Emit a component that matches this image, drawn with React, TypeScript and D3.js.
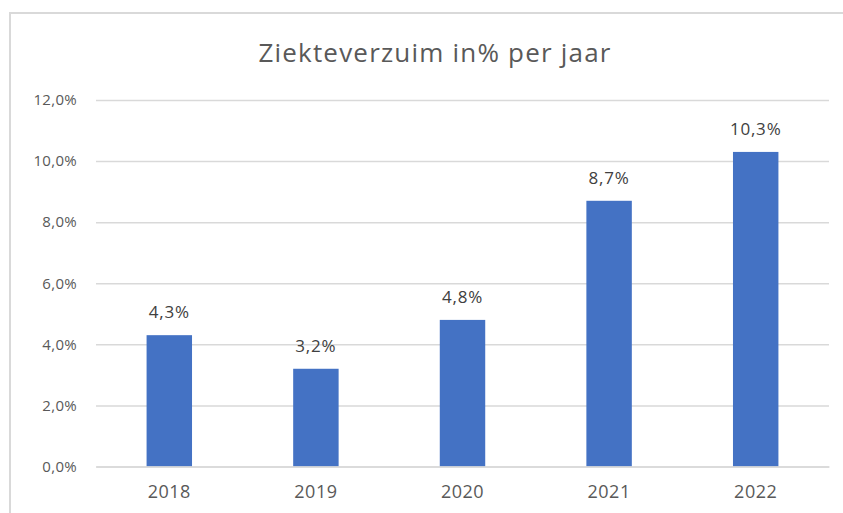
import { useEffect, useRef } from "react";
import * as d3 from "d3";

const years = ["2018", "2019", "2020", "2021", "2022"];
const absence = [4.3, 3.2, 4.8, 8.7, 10.3];
const yTicks = [0, 2, 4, 6, 8, 10, 12];
const title = "Ziekteverzuim in% per jaar";

const fmt = (v: number) => v.toFixed(1).replace(".", ",") + "%";

const App: React.FC = () => {
  const svgRef = useRef<SVGSVGElement>(null);

  useEffect(() => {
    if (!svgRef.current) return;
    const svg = d3.select(svgRef.current);
    svg.selectAll("*").remove();

    const width = 843;
    const height = 513;
    const margin = { top: 100, right: 14, bottom: 46.5, left: 96 };
    const innerWidth = width - margin.left - margin.right;
    const innerHeight = height - margin.top - margin.bottom;
    const font = "'Open Sans', 'Noto Sans', sans-serif";

    svg.attr("width", width).attr("height", height).style("display", "block");

    // chart frame (cut off on the right and bottom)
    svg
      .append("rect")
      .attr("x", 10)
      .attr("y", 13)
      .attr("width", 860)
      .attr("height", 520)
      .attr("fill", "#fff")
      .attr("stroke", "#d9d9d9")
      .attr("stroke-width", 2);

    svg
      .append("text")
      .attr("x", 435)
      .attr("y", 62)
      .attr("text-anchor", "middle")
      .attr("font-family", font)
      .attr("font-size", 26)
      .attr("letter-spacing", 1.2)
      .attr("fill", "#595959")
      .text(title);

    const x = d3
      .scaleBand()
      .domain(years)
      .range([0, innerWidth])
      .paddingInner(0.69)
      .paddingOuter(0.345);

    const y = d3.scaleLinear().domain([0, 12]).range([innerHeight, 0]);

    const g = svg
      .append("g")
      .attr("transform", `translate(${margin.left},${margin.top})`);

    // gridlines
    g.append("g")
      .call(
        d3
          .axisLeft(y)
          .tickValues(yTicks)
          .tickSize(-innerWidth)
          .tickFormat(() => "")
      )
      .call((s) => s.select(".domain").remove())
      .call((s) =>
        s.selectAll(".tick line").attr("stroke", "#d9d9d9").attr("stroke-width", 1.5)
      );

    // y labels
    g.append("g")
      .call(
        d3
          .axisLeft(y)
          .tickValues(yTicks)
          .tickSize(0)
          .tickPadding(19)
          .tickFormat((d) => fmt(d as number))
      )
      .call((s) => s.select(".domain").remove())
      .call((s) =>
        s
          .selectAll(".tick text")
          .attr("font-family", font)
          .attr("font-size", 15)
          .attr("letter-spacing", 0.3)
          .attr("fill", "#595959")
      );

    // bars
    g.selectAll("rect.bar")
      .data(absence)
      .join("rect")
      .attr("class", "bar")
      .attr("x", (_, i) => x(years[i])!)
      .attr("y", (d) => y(d))
      .attr("width", x.bandwidth())
      .attr("height", (d) => innerHeight - y(d))
      .attr("fill", "#4472c4");

    // data labels
    g.selectAll("text.label")
      .data(absence)
      .join("text")
      .attr("class", "label")
      .attr("x", (_, i) => x(years[i])! + x.bandwidth() / 2)
      .attr("y", (d) => y(d) - 17)
      .attr("text-anchor", "middle")
      .attr("font-family", font)
      .attr("font-size", 17)
      .attr("letter-spacing", 0.8)
      .attr("fill", "#404040")
      .text((d) => fmt(d));

    // x axis
    g.append("g")
      .attr("transform", `translate(0,${innerHeight})`)
      .call(d3.axisBottom(x).tickSize(0).tickPadding(19))
      .call((s) => s.select(".domain").attr("stroke", "#d9d9d9").attr("stroke-width", 1.5))
      .call((s) =>
        s
          .selectAll(".tick text")
          .attr("font-family", font)
          .attr("font-size", 18)
          .attr("letter-spacing", 0.5)
          .attr("fill", "#595959")
      );
  }, []);

  return <svg ref={svgRef} style={{ position: "absolute", left: 0, top: 0 }}></svg>;
};

export default App;
